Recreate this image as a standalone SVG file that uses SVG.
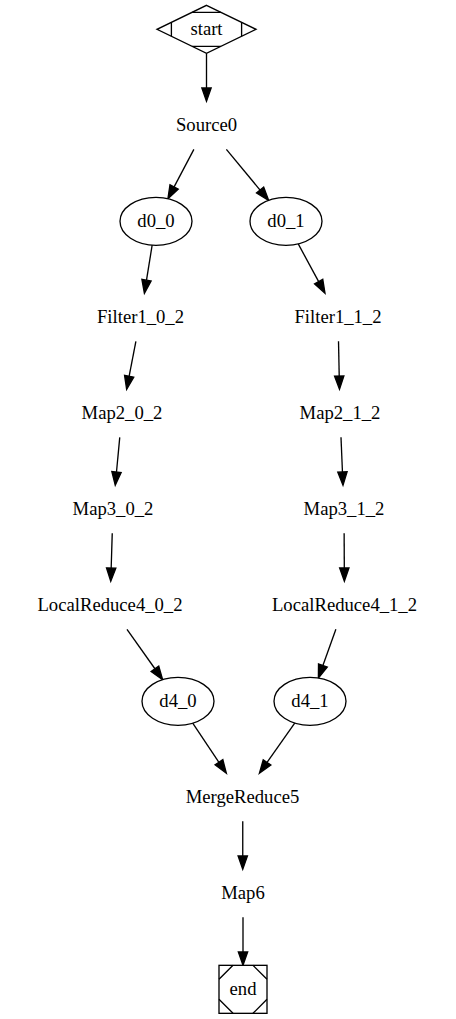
<svg xmlns="http://www.w3.org/2000/svg" width="456" height="1019" viewBox="0 0 456 1019">
<style>
text{font-family:"Liberation Serif","Times New Roman",serif;font-size:18.67px;fill:#000;text-anchor:middle}
.s{fill:none;stroke:#000;stroke-width:1.33}
.w{fill:#fff;stroke:#000;stroke-width:1.33}
.a{fill:#000;stroke:#000;stroke-width:1.33}
</style>
<rect width="456" height="1019" fill="#fff"/>
<g id="edges">
<path class="s" d="M206.5,53.33L206.5,88"/><polygon class="a" points="206.5,101.33 201.83,88 211.17,88"/>
<path class="s" d="M193.88,149.33L174.12,186.88"/><polygon class="a" points="167.91,198.68 178.25,189.05 169.99,184.71"/>
<path class="s" d="M226.38,149.33L260.10,190.05"/><polygon class="a" points="268.60,200.32 256.50,193.03 263.70,187.07"/>
<path class="s" d="M152.15,245.19L146.50,280.17"/><polygon class="a" points="144.38,293.33 151.11,280.91 141.89,279.43"/>
<path class="s" d="M298.23,243.90L318.65,281.61"/><polygon class="a" points="325,293.33 314.54,283.83 322.76,279.39"/>
<path class="s" d="M135.88,341.33L129.15,376.24"/><polygon class="a" points="126.63,389.33 133.74,377.12 124.56,375.36"/>
<path class="s" d="M338.5,341.33L339.22,376"/><polygon class="a" points="339.5,389.33 334.55,376.10 343.89,375.90"/>
<path class="s" d="M119.75,437.33L116.49,472.06"/><polygon class="a" points="115.25,485.33 121.14,472.50 111.84,471.62"/>
<path class="s" d="M341,437.33L342.45,472.01"/><polygon class="a" points="343,485.33 337.78,472.20 347.12,471.82"/>
<path class="s" d="M112.25,533.33L111.17,568.01"/><polygon class="a" points="110.75,581.33 115.84,568.16 106.50,567.86"/>
<path class="s" d="M344.13,533.33L344.31,568"/><polygon class="a" points="344.38,581.33 339.64,568 348.98,568"/>
<path class="s" d="M127,629.33L154.93,668.75"/><polygon class="a" points="162.63,679.63 151.12,671.45 158.74,666.05"/>
<path class="s" d="M335.88,629.33L322.90,665.45"/><polygon class="a" points="318.39,677.99 327.29,667.03 318.51,663.87"/>
<path class="s" d="M192.72,723.23L218.95,762.27"/><polygon class="a" points="226.38,773.33 215.07,764.87 222.83,759.67"/>
<path class="s" d="M294.72,723.06L267.05,762.43"/><polygon class="a" points="259.38,773.33 270.87,765.12 263.23,759.74"/>
<path class="s" d="M242.75,821.33L242.75,856"/><polygon class="a" points="242.75,869.33 238.08,856 247.42,856"/>
<path class="s" d="M243,917.33L243,952"/><polygon class="a" points="243,965.33 238.33,952 247.67,952"/>
</g>
<g id="start">
<polygon class="w" points="206.5,5.33 256,29.33 206.5,53.33 157,29.33"/>
<path class="s" d="M192.1,12.33L220.9,12.33M241.6,22.33L241.6,36.33M220.9,46.33L192.1,46.33M171.4,36.33L171.4,22.33"/>
<text x="206.5" y="34.93">start</text>
</g>
<g id="Source0"><text x="206.5" y="130.93">Source0</text></g>
<g id="d0_0"><ellipse class="w" cx="156" cy="221.33" rx="36" ry="24"/><text x="156" y="226.93">d0_0</text></g>
<g id="d0_1"><ellipse class="w" cx="286" cy="221.33" rx="36" ry="24"/><text x="286" y="226.93">d0_1</text></g>
<g id="Filter1_0_2"><text x="140.5" y="322.93">Filter1_0_2</text></g>
<g id="Filter1_1_2"><text x="338" y="322.93">Filter1_1_2</text></g>
<g id="Map2_0_2"><text x="122" y="418.93">Map2_0_2</text></g>
<g id="Map2_1_2"><text x="340" y="418.93">Map2_1_2</text></g>
<g id="Map3_0_2"><text x="113" y="514.93">Map3_0_2</text></g>
<g id="Map3_1_2"><text x="344" y="514.93">Map3_1_2</text></g>
<g id="LocalReduce4_0_2"><text x="110" y="610.93">LocalReduce4_0_2</text></g>
<g id="LocalReduce4_1_2"><text x="344.5" y="610.93">LocalReduce4_1_2</text></g>
<g id="d4_0"><ellipse class="w" cx="178" cy="701.33" rx="36" ry="24"/><text x="178" y="706.93">d4_0</text></g>
<g id="d4_1"><ellipse class="w" cx="310" cy="701.33" rx="36" ry="24"/><text x="310" y="706.93">d4_1</text></g>
<g id="MergeReduce5"><text x="242.5" y="802.93">MergeReduce5</text></g>
<g id="Map6"><text x="243" y="898.93">Map6</text></g>
<g id="end">
<rect class="w" x="219" y="965.33" width="48" height="48"/>
<path class="s" d="M219,979.33L233,965.33M253,965.33L267,979.33M267,999.33L253,1013.33M233,1013.33L219,999.33"/>
<text x="243" y="994.93">end</text>
</g>
</svg>
